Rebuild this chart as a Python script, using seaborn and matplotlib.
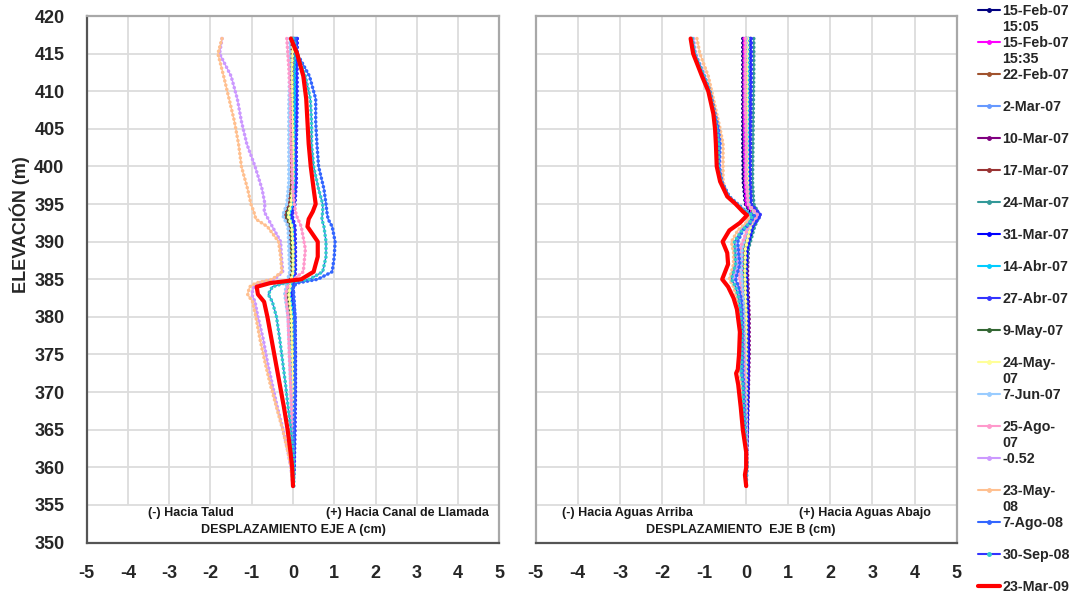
import numpy as np
import pandas as pd
import matplotlib
matplotlib.use('Agg')
import matplotlib.pyplot as plt
from matplotlib.lines import Line2D
import seaborn as sns

# legend labels / colours (line colour, marker colour)
labels = ['15-Feb-07\n15:05', '15-Feb-07\n15:35', '22-Feb-07', '2-Mar-07', '10-Mar-07',
          '17-Mar-07', '24-Mar-07', '31-Mar-07', '14-Abr-07', '27-Abr-07', '9-May-07',
          '24-May-\n07', '7-Jun-07', '25-Ago-\n07', '-0.52', '23-May-\n08', '7-Ago-08',
          '30-Sep-08', '23-Mar-09']
line_colors = ['#000080', '#FF00FF', '#A0522D', '#6699FF', '#800080', '#993333', '#339999',
               '#0000FF', '#00CCFF', '#3333FF', '#336633', '#FFFF99', '#99CCFF', '#FF99CC',
               '#CC99FF', '#FFC090', '#3366FF', '#3333FF', '#FF0000']
marker_colors = ['#000080', '#FF00FF', '#A0522D', '#6699FF', '#800080', '#993333', '#339999',
                 '#0000FF', '#00CCFF', '#3333FF', '#336633', '#FFFF99', '#99CCFF', '#FF99CC',
                 '#CC99FF', '#FFC090', '#3366FF', '#33CCCC', '#FF0000']

# ---------------- EJE A ----------------
elev_a0 = [417, 413, 408, 403, 398, 395, 393.5, 392, 389, 386, 384.5, 383, 380, 375, 370, 365, 360, 357.5]
a_feb15a = [0.0, 0.0, -0.02, -0.02, 0.0, -0.05, -0.12, -0.05, -0.03, 0.0, -0.05, -0.08, -0.05, -0.03, -0.02, 0.0, 0.0, 0.0]
a_feb15b = [0.02, 0.0, 0.0, -0.02, 0.0, -0.03, -0.08, -0.03, 0.0, 0.02, -0.02, -0.05, -0.03, -0.02, 0.0, 0.0, 0.0, 0.0]
a_feb22 = [-0.05, -0.03, -0.05, -0.05, -0.05, -0.1, -0.2, -0.08, -0.05, -0.03, -0.1, -0.15, -0.08, -0.05, -0.03, -0.02, 0.0, 0.0]
a_mar02 = [0.03, 0.02, 0.0, 0.0, 0.02, -0.05, -0.18, -0.1, -0.05, -0.03, -0.12, -0.18, -0.1, -0.06, -0.03, -0.01, 0.0, 0.0]
a_mar10 = [-0.02, -0.03, -0.05, -0.03, -0.02, -0.08, -0.15, -0.06, -0.05, -0.05, -0.1, -0.12, -0.07, -0.04, -0.02, 0.0, 0.0, 0.0]
a_mar17 = [-0.05, -0.05, -0.06, -0.05, -0.03, -0.1, -0.2, -0.1, -0.06, -0.05, -0.12, -0.16, -0.1, -0.06, -0.03, -0.01, 0.0, 0.0]
a_mar24 = [0.05, 0.05, 0.03, 0.02, 0.03, 0.0, -0.1, -0.02, 0.0, 0.0, -0.05, -0.1, -0.05, -0.02, 0.0, 0.02, 0.02, 0.0]
a_mar31 = [0.1, 0.08, 0.08, 0.07, 0.07, 0.03, -0.05, 0.03, 0.05, 0.05, 0.0, -0.03, 0.02, 0.03, 0.04, 0.03, 0.02, 0.0]
a_abr14 = [0.08, 0.06, 0.05, 0.05, 0.05, 0.0, -0.1, 0.0, 0.02, 0.03, -0.03, -0.08, 0.0, 0.02, 0.03, 0.03, 0.02, 0.0]
a_abr27 = [0.1, 0.1, 0.1, 0.08, 0.08, 0.05, -0.02, 0.05, 0.06, 0.06, 0.02, 0.0, 0.05, 0.06, 0.06, 0.05, 0.03, 0.0]
a_may09 = [0.0, -0.02, -0.03, -0.02, -0.02, -0.06, -0.15, -0.05, -0.03, -0.02, -0.08, -0.12, -0.05, -0.03, -0.01, 0.0, 0.0, 0.0]
a_may24 = [0.0, -0.03, -0.02, 0.0, 0.0, -0.05, -0.12, -0.03, 0.0, 0.0, -0.06, -0.1, -0.04, -0.02, 0.0, 0.0, 0.0, 0.0]
a_jun07 = [-0.08, -0.08, -0.1, -0.1, -0.1, -0.15, -0.25, -0.12, -0.1, -0.08, -0.15, -0.2, -0.12, -0.08, -0.05, -0.02, 0.0, 0.0]
a_ago07 = [-0.15, -0.1, -0.06, -0.05, -0.02, 0.03, 0.08, 0.2, 0.3, 0.25, -0.1, -0.18, -0.12, -0.09, -0.05, -0.02, 0.0, 0.0]

elev_a = [417, 415, 412, 409, 406, 403, 400, 397, 395, 394, 393, 392, 390, 388, 386, 385, 384.5, 384,
          383, 382, 380, 377, 374, 371, 368, 365, 362, 360, 357.5]
a_lav = [-1.72, -1.78, -1.5, -1.35, -1.25, -1.12, -0.92, -0.75, -0.68, -0.7, -0.6, -0.5, -0.3, -0.28,
         -0.25, -0.45, -0.85, -0.95, -1.0, -0.92, -0.85, -0.72, -0.62, -0.5, -0.38, -0.24, -0.12, -0.05, 0.0]
a_may08 = [-1.72, -1.82, -1.68, -1.55, -1.42, -1.32, -1.25, -1.1, -1.02, -0.95, -0.9, -0.62, -0.35, -0.3,
           -0.27, -0.5, -0.9, -1.05, -1.1, -0.98, -0.9, -0.8, -0.68, -0.55, -0.4, -0.25, -0.12, -0.05, 0.0]
a_ago08 = [0.05, 0.1, 0.4, 0.55, 0.55, 0.58, 0.62, 0.75, 0.8, 0.82, 0.85, 0.95, 1.02, 1.0, 0.95, 0.6,
           0.1, 0.0, 0.02, 0.03, 0.05, 0.05, 0.05, 0.05, 0.04, 0.03, 0.02, 0.01, 0.0]
a_sep08 = [0.0, 0.1, 0.3, 0.42, 0.45, 0.45, 0.5, 0.62, 0.72, 0.72, 0.7, 0.75, 0.8, 0.8, 0.72, 0.4,
           -0.2, -0.5, -0.6, -0.5, -0.4, -0.32, -0.25, -0.18, -0.12, -0.05, 0.0, 0.02, 0.02]
a_mar09 = [-0.05, 0.1, 0.25, 0.32, 0.35, 0.38, 0.43, 0.5, 0.55, 0.48, 0.38, 0.35, 0.6, 0.6, 0.5, 0.2,
           -0.55, -0.88, -0.85, -0.7, -0.62, -0.52, -0.42, -0.32, -0.22, -0.13, -0.06, -0.02, 0.0]

# ---------------- EJE B ----------------
elev_b0 = [417, 413, 408, 403, 398, 395, 393.5, 392, 389, 386, 383, 380, 375, 370, 365, 360, 357.5]
b_feb15a = [-0.08, -0.08, -0.08, -0.08, -0.07, -0.02, 0.15, 0.05, -0.05, -0.05, -0.03, -0.02, -0.02, -0.01, 0.0, 0.0, 0.0]
b_feb15b = [-0.05, -0.05, -0.05, -0.04, -0.03, 0.0, 0.2, 0.08, -0.05, -0.05, -0.03, -0.02, -0.01, 0.0, 0.0, 0.0, 0.0]
b_feb22 = [0.0, 0.0, 0.0, 0.02, 0.03, 0.05, 0.22, 0.1, -0.02, -0.03, -0.02, 0.0, 0.0, 0.0, 0.0, 0.0, 0.0]
b_mar02 = [0.02, 0.02, 0.03, 0.03, 0.05, 0.08, 0.25, 0.12, 0.0, -0.02, -0.02, 0.0, 0.02, 0.02, 0.0, 0.0, 0.0]
b_mar10 = [0.1, 0.1, 0.1, 0.1, 0.1, 0.12, 0.28, 0.15, 0.05, 0.03, 0.05, 0.07, 0.07, 0.05, 0.03, 0.0, 0.0]
b_mar17 = [0.05, 0.05, 0.06, 0.06, 0.07, 0.1, 0.25, 0.12, 0.02, 0.0, 0.02, 0.03, 0.03, 0.02, 0.01, 0.0, 0.0]
b_mar24 = [0.18, 0.18, 0.17, 0.16, 0.15, 0.18, 0.32, 0.2, 0.05, 0.0, 0.02, 0.03, 0.03, 0.02, 0.01, 0.0, 0.0]
b_mar31 = [0.1, 0.1, 0.1, 0.09, 0.08, 0.1, 0.3, 0.15, 0.02, 0.0, 0.02, 0.04, 0.05, 0.04, 0.02, 0.0, 0.0]
b_abr14 = [0.05, 0.05, 0.05, 0.05, 0.05, 0.08, 0.3, 0.12, -0.03, -0.05, -0.03, -0.01, 0.0, 0.0, 0.0, 0.0, 0.0]
b_abr27 = [0.12, 0.12, 0.11, 0.1, 0.1, 0.12, 0.35, 0.15, 0.0, -0.02, 0.0, 0.03, 0.04, 0.03, 0.02, 0.0, 0.0]
b_may09 = [0.0, 0.0, 0.0, 0.0, 0.02, 0.05, 0.2, 0.08, -0.03, -0.04, -0.02, 0.0, 0.0, 0.0, 0.0, 0.0, 0.0]
b_may24 = [0.03, 0.02, 0.02, 0.02, 0.03, 0.05, 0.22, 0.1, -0.02, -0.03, -0.02, 0.0, 0.0, 0.0, 0.0, 0.0, 0.0]
b_jun07 = [0.0, -0.02, -0.02, 0.0, 0.0, 0.05, 0.25, 0.05, -0.1, -0.12, -0.08, -0.05, -0.03, -0.02, 0.0, 0.0, 0.0]
b_ago07 = [-0.02, -0.02, -0.02, 0.0, 0.0, 0.05, 0.28, 0.05, -0.15, -0.18, -0.12, -0.08, -0.05, -0.03, -0.01, 0.0, 0.0]

elev_b = [417, 415, 412, 410, 407, 405, 403, 400, 398, 396, 395, 394, 393.5, 392.5, 391.5, 390, 388.5,
          387, 386, 385, 384, 382.5, 381, 378, 375, 373, 372.5, 371, 368, 365, 362, 360, 359, 357.5]
b_lav = [-1.25, -1.2, -0.98, -0.85, -0.74, -0.68, -0.64, -0.62, -0.58, -0.42, -0.22, -0.04, 0.12, 0.05,
         -0.12, -0.25, -0.22, -0.2, -0.24, -0.28, -0.2, -0.15, -0.12, -0.1, -0.1, -0.1, -0.1, -0.08,
         -0.05, -0.03, 0.0, 0.02, 0.0, 0.0]
b_may08 = [-1.17, -1.1, -0.9, -0.82, -0.7, -0.62, -0.55, -0.55, -0.55, -0.45, -0.25, -0.05, 0.1, 0.0,
           -0.2, -0.35, -0.3, -0.3, -0.35, -0.4, -0.3, -0.22, -0.17, -0.12, -0.12, -0.13, -0.14, -0.12,
           -0.08, -0.05, 0.0, 0.02, 0.0, 0.0]
b_ago08 = [-1.3, -1.22, -1.0, -0.86, -0.74, -0.66, -0.62, -0.64, -0.58, -0.4, -0.2, 0.0, 0.2, 0.1,
           -0.08, -0.2, -0.18, -0.15, -0.2, -0.25, -0.18, -0.12, -0.1, -0.08, -0.08, -0.08, -0.08, -0.06,
           -0.04, -0.02, 0.0, 0.02, 0.01, 0.0]
b_sep08 = [-1.28, -1.22, -1.0, -0.87, -0.76, -0.7, -0.66, -0.66, -0.6, -0.42, -0.22, -0.02, 0.15, 0.08,
           -0.1, -0.28, -0.26, -0.25, -0.3, -0.35, -0.25, -0.18, -0.14, -0.1, -0.1, -0.12, -0.12, -0.08,
           -0.06, -0.03, 0.0, 0.02, 0.0, 0.0]
b_mar09 = [-1.32, -1.26, -1.05, -0.9, -0.78, -0.74, -0.72, -0.7, -0.62, -0.45, -0.25, -0.08, 0.02, -0.15,
           -0.4, -0.56, -0.45, -0.43, -0.5, -0.57, -0.43, -0.3, -0.22, -0.15, -0.17, -0.2, -0.24, -0.19,
           -0.13, -0.08, 0.0, 0.0, -0.03, 0.0]

series_a = [(elev_a0, v) for v in [a_feb15a, a_feb15b, a_feb22, a_mar02, a_mar10, a_mar17, a_mar24,
                                     a_mar31, a_abr14, a_abr27, a_may09, a_may24, a_jun07, a_ago07]]
series_a += [(elev_a, v) for v in [a_lav, a_may08, a_ago08, a_sep08, a_mar09]]
series_b = [(elev_b0, v) for v in [b_feb15a, b_feb15b, b_feb22, b_mar02, b_mar10, b_mar17, b_mar24,
                                     b_mar31, b_abr14, b_abr27, b_may09, b_may24, b_jun07, b_ago07]]
series_b += [(elev_b, v) for v in [b_lav, b_may08, b_ago08, b_sep08, b_mar09]]

sns.set_style('white')
plt.rcParams['font.family'] = ['Liberation Sans', 'DejaVu Sans']
plt.rcParams['axes.unicode_minus'] = False

fig = plt.figure(figsize=(10.77, 6.02), dpi=100)
ax_a = fig.add_axes([0.0805, 0.0988, 0.3831, 0.8746])
ax_b = fig.add_axes([0.4974, 0.0988, 0.3909, 0.8746])


def draw(ax, series):
    for i, (elev, vals) in enumerate(series):
        df = pd.DataFrame({'x': vals, 'y': elev})
        if i == len(series) - 1:
            sns.lineplot(data=df, x='x', y='y', sort=False, estimator=None, color=line_colors[i],
                         linewidth=3.0, ax=ax, zorder=6, legend=False)
            continue
        sns.lineplot(data=df, x='x', y='y', sort=False, estimator=None, color=line_colors[i],
                     linewidth=0.9, ax=ax, zorder=3 + i * 0.01, legend=False)
        sns.lineplot(data=df, x='x', y='y', sort=False, estimator=None, color=marker_colors[i],
                     linewidth=2.6, linestyle=(0, (0.01, 1.2)), dash_capstyle='round',
                     ax=ax, zorder=3 + i * 0.01, legend=False)


def style(ax, left_axis):
    ax.set_xlim(-5, 5)
    ax.set_ylim(350, 420)
    ax.vlines(range(-4, 5), 355, 420, color='#DCDCDC', lw=1.3, zorder=0)
    ax.hlines(range(355, 420, 5), -5, 5, color='#DCDCDC', lw=1.3, zorder=0)
    ax.set_xticks(range(-5, 6))
    ax.set_xlabel('')
    ax.set_ylabel('')
    ax.tick_params(axis='x', direction='out', length=6, width=1.5, color='#444444',
                   pad=10, labelsize=13)
    for lab in ax.get_xticklabels():
        lab.set_fontweight('bold')
    for s in ['top', 'right', 'left']:
        ax.spines[s].set_color('#A8A8A8')
        ax.spines[s].set_linewidth(1.6)
    ax.spines['bottom'].set_color('#555555')
    ax.spines['bottom'].set_linewidth(1.6)
    ax.set_yticks(range(350, 421, 5))
    if left_axis:
        ax.spines['left'].set_color('#555555')
        ax.tick_params(axis='y', direction='out', length=6, width=1.5, color='#444444',
                       pad=10, labelsize=13)
        for lab in ax.get_yticklabels():
            lab.set_fontweight('bold')
    else:
        ax.tick_params(axis='y', length=0, labelleft=False)


draw(ax_a, series_a)
draw(ax_b, series_b)
style(ax_a, True)
style(ax_b, False)

txt = dict(ha='center', va='center', fontsize=9, fontweight='bold', color='#1a1a1a')
ax_a.text(-2.48, 353.9, '(-) Hacia Talud', **txt)
ax_a.text(2.78, 353.9, '(+) Hacia Canal de Llamada', **txt)
ax_a.text(0.02, 351.7, 'DESPLAZAMIENTO EJE A (cm)', **txt)
ax_b.text(-2.81, 353.9, '(-) Hacia Aguas Arriba', **txt)
ax_b.text(2.82, 353.9, '(+) Hacia Aguas Abajo', **txt)
ax_b.text(-0.13, 351.7, 'DESPLAZAMIENTO  EJE B (cm)', **txt)

fig.text(0.018, 1 - 225 / 602, 'ELEVACIÓN (m)', rotation=90, ha='center', va='center',
         fontsize=13, fontweight='bold')

# legend: two rows per entry, second row holds wrapped text or is blank
handles, leg_labels = [], []
for i, lab in enumerate(labels):
    parts = lab.split('\n')
    if i == len(labels) - 1:
        handles.append(Line2D([], [], color=line_colors[i], lw=3.0))
    else:
        handles.append(Line2D([], [], color=line_colors[i], lw=1.5, marker='o', ms=2.5,
                              markerfacecolor=marker_colors[i], markeredgecolor=marker_colors[i]))
    leg_labels.append(parts[0])
    handles.append(Line2D([], [], color='none'))
    leg_labels.append(parts[1] if len(parts) > 1 else ' ')

leg = fig.legend(handles, leg_labels, loc='upper left', bbox_to_anchor=(0.908, 0.993),
                 frameon=False, borderpad=0, borderaxespad=0, labelspacing=0.14,
                 handlelength=1.55, handletextpad=0.15,
                 prop={'family': 'Liberation Sans', 'weight': 'bold', 'size': 10.3})

fig.savefig('out.png', dpi=100)
